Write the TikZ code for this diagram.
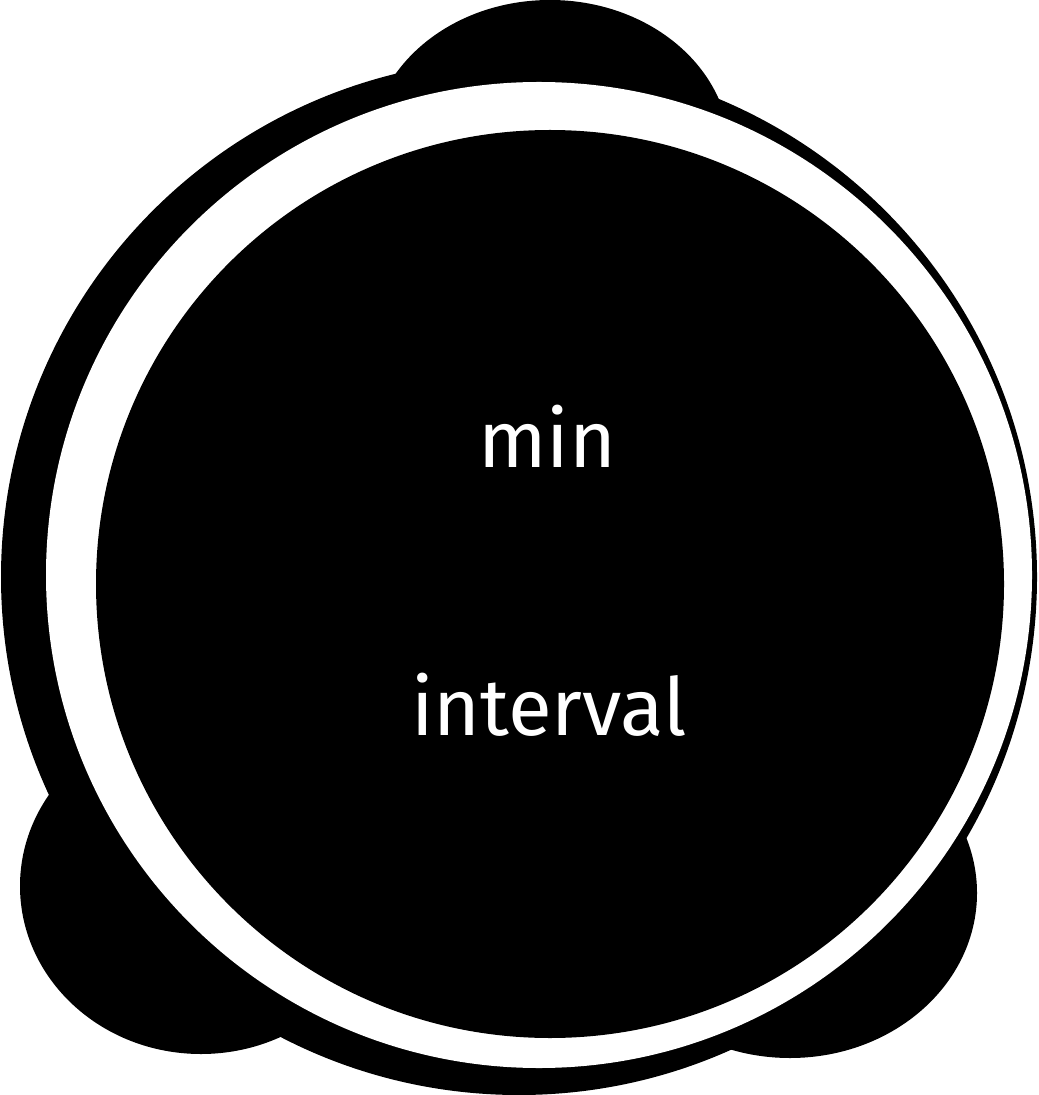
\documentclass[tikz,border=0pt]{standalone}
\usepackage{fontspec}
\setmainfont{Fira Sans}
\tikzset{
  blob/.style={fill=black},
  label/.style={text=white,font=\fontsize{40}{42}\selectfont,inner sep=0pt,anchor=base}
}
\begin{document}
\begin{tikzpicture}[x=0.5pt,y=-0.5pt]
  \useasboundingbox (0,0) rectangle (1038,1095);
  % Three lobes sit behind the large disc.
  \foreach \cx/\cy/\rx/\ry in {550/152/180/152,201/886/181/168,790/893/187/165}{
    \fill[blob] (\cx,\cy) ellipse [x radius=\rx,y radius=\ry];
  }
  \fill[blob] (519,577) circle [radius=518];
  \fill[white] (539,575) circle [radius=493];
  \fill[blob] (550,584) circle [radius=454];
  \node[label] (min) at (547,467) {min};
  \node[label] (interval) at (549,735) {interval};
\end{tikzpicture}
\end{document}
